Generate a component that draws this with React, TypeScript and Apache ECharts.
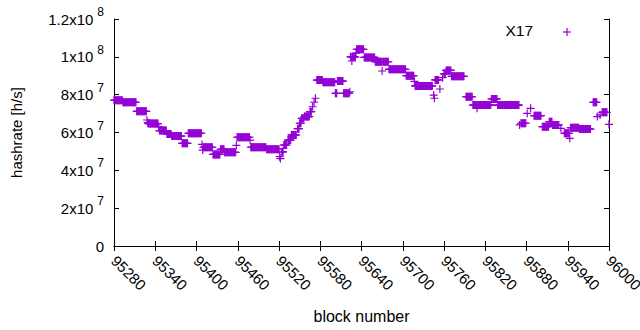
import React, { useEffect, useRef } from "react";
import * as echarts from "echarts";

// Runs of constant hashrate (block start, block end, value in units of 1e7 h/s)
const runStart = [
  95280, 95293, 95313, 95328, 95329, 95330, 95345, 95346, 95357, 95364,
  95379, 95388, 95408, 95409, 95410, 95424, 95435, 95441, 95458, 95459,
  95478, 95479, 95502, 95521, 95522, 95524, 95527, 95533, 95538, 95547,
  95550, 95553, 95557, 95565, 95569, 95571, 95573, 95575, 95584, 95602,
  95605, 95614, 95623, 95624, 95626, 95627, 95632, 95633, 95644, 95660,
  95670, 95671, 95680, 95705, 95717, 95718, 95745, 95746, 95747, 95754,
  95758, 95760, 95763, 95771, 95792, 95802, 95808, 95809, 95829, 95838,
  95870, 95872, 95881, 95886, 95891, 95903, 95913, 95918, 95930, 95935,
  95943, 95944, 95957, 95977, 95983, 95987, 95990, 96000,
];
const runEnd = [
  95292, 95312, 95327, 95328, 95329, 95344, 95345, 95356, 95363, 95378,
  95387, 95407, 95408, 95409, 95423, 95434, 95440, 95457, 95458, 95477,
  95478, 95501, 95520, 95521, 95522, 95526, 95531, 95537, 95545, 95549,
  95552, 95556, 95564, 95567, 95569, 95571, 95573, 95583, 95601, 95604,
  95613, 95622, 95623, 95625, 95626, 95631, 95632, 95643, 95659, 95669,
  95670, 95679, 95704, 95716, 95717, 95743, 95745, 95746, 95752, 95754,
  95758, 95762, 95770, 95789, 95801, 95807, 95808, 95828, 95837, 95869,
  95870, 95879, 95881, 95886, 95901, 95912, 95917, 95927, 95930, 95942,
  95943, 95956, 95973, 95982, 95983, 95987, 95997, 96000,
];
const runValue = [
  7.70, 7.60, 7.12, 6.66, 6.52, 6.47, 6.31, 6.10, 5.92, 5.81,
  5.43, 5.96, 5.37, 5.07, 5.22, 4.84, 5.11, 4.95, 5.32, 5.75,
  5.60, 5.22, 5.11, 4.72, 4.62, 4.98, 5.34, 5.60, 5.87, 6.20,
  6.49, 6.75, 6.84, 7.10, 7.36, 7.60, 7.81, 8.77, 8.65, 8.07,
  8.72, 8.07, 8.15, 10.0, 9.78, 10.0, 10.2, 10.4, 9.97, 9.74,
  9.25, 9.74, 9.34, 9.00, 8.70, 8.46, 7.98, 7.81, 8.78, 8.30,
  8.90, 9.10, 9.28, 8.97, 7.89, 7.45, 7.28, 7.45, 7.77, 7.45,
  6.40, 6.49, 7.01, 7.28, 6.89, 6.31, 6.57, 6.40, 6.22, 5.96,
  5.69, 6.25, 6.18, 7.60, 6.84, 6.93, 7.07, 6.43,
];
const valueUnit = 1e7;

const xTickMin = 95280;
const xTickMax = 96000;
const xTickStep = 60;

const yTickBase = ["0", "2x10", "4x10", "6x10", "8x10", "1x10", "1.2x10"];
const yTickExp = ["", "7", "7", "7", "7", "8", "8"];
const yTickStep = 2e7;

const seriesName = "X17";
const COLOR = "#9400d3";
const FONT = "'Liberation Sans', Arial, sans-serif";

const PLUS = "path://M0,3.4H8V4.6H0Z M3.4,0H4.6V8H3.4Z";

export default function App() {
  const ref = useRef<HTMLDivElement>(null);
  useEffect(() => {
    if (!ref.current) return;
    const chart = echarts.init(ref.current, undefined, { renderer: "svg" });
    const data: [number, number][] = [];
    for (let i = 0; i < runStart.length; i++) {
      for (let b = runStart[i]; b <= runEnd[i]; b++) {
        data.push([b, runValue[i] * valueUnit]);
      }
    }
    const axisLine = { show: true, lineStyle: { color: "#000", width: 1 } };
    const tick = { show: true, inside: true, length: 5, lineStyle: { color: "#000" } };
    chart.setOption({
      animation: false,
      grid: {
        left: 114,
        right: 31,
        top: 19,
        bottom: 84,
        containLabel: false,
        outerBoundsMode: "none",
      },
      xAxis: [
        {
          type: "value",
          position: "bottom",
          min: xTickMin,
          max: xTickMax,
          interval: xTickStep,
          axisLine,
          axisTick: tick,
          splitLine: { show: false },
          axisLabel: {
            rotate: -45,
            margin: 12,
            fontSize: 15,
            color: "#000",
            fontFamily: FONT,
            formatter: (v: number) => String(v),
          },
          name: "block number",
          nameLocation: "middle",
          nameGap: 62,
          nameTextStyle: { fontSize: 16, color: "#000", fontFamily: FONT },
        },
        {
          type: "value",
          position: "top",
          min: xTickMin,
          max: xTickMax,
          interval: xTickStep,
          axisLine,
          axisTick: tick,
          axisLabel: { show: false },
          splitLine: { show: false },
        },
      ],
      yAxis: [
        {
          type: "value",
          position: "left",
          min: 0,
          max: yTickStep * (yTickBase.length - 1),
          interval: yTickStep,
          axisLine,
          axisTick: tick,
          splitLine: { show: false },
          axisLabel: {
            margin: 10,
            color: "#000",
            fontFamily: FONT,
            fontSize: 15,
            formatter: (v: number) => {
              const i = Math.round(v / yTickStep);
              if (!yTickExp[i]) return `{m|${yTickBase[i]}}`;
              return `{m|${yTickBase[i]}}{s|${yTickExp[i]}}`;
            },
            rich: {
              m: { fontSize: 15, fontFamily: FONT, color: "#000" },
              s: { fontSize: 12, fontFamily: FONT, color: "#000", padding: [0, 0, 14, 4] },
            },
          },
          name: "hashrate [h/s]",
          nameLocation: "middle",
          nameGap: 90,
          nameTextStyle: { fontSize: 15, color: "#000", fontFamily: FONT },
        },
        {
          type: "value",
          position: "right",
          min: 0,
          max: yTickStep * (yTickBase.length - 1),
          interval: yTickStep,
          axisLine,
          axisTick: tick,
          axisLabel: { show: false },
          splitLine: { show: false },
        },
      ],
      graphic: [
        {
          type: "text",
          right: 107,
          top: 22,
          style: { text: seriesName, fontSize: 15.5, fontFamily: FONT, fill: "#000" },
        },
        {
          type: "line",
          shape: { x1: 563, y1: 32, x2: 571, y2: 32 },
          style: { stroke: COLOR, lineWidth: 1.2 },
        },
        {
          type: "line",
          shape: { x1: 567, y1: 28, x2: 567, y2: 36 },
          style: { stroke: COLOR, lineWidth: 1.2 },
        },
      ],
      series: [
        {
          name: seriesName,
          type: "scatter",
          data,
          symbol: PLUS,
          symbolSize: 8,
          clip: false,
          itemStyle: { color: COLOR, opacity: 1 },
          emphasis: { disabled: true },
        },
      ],
    });
    return () => chart.dispose();
  }, []);
  return (
    <div
      ref={ref}
      style={{ position: "fixed", left: 0, top: 0, width: 640, height: 330, background: "#fff" }}
    />
  );
}
